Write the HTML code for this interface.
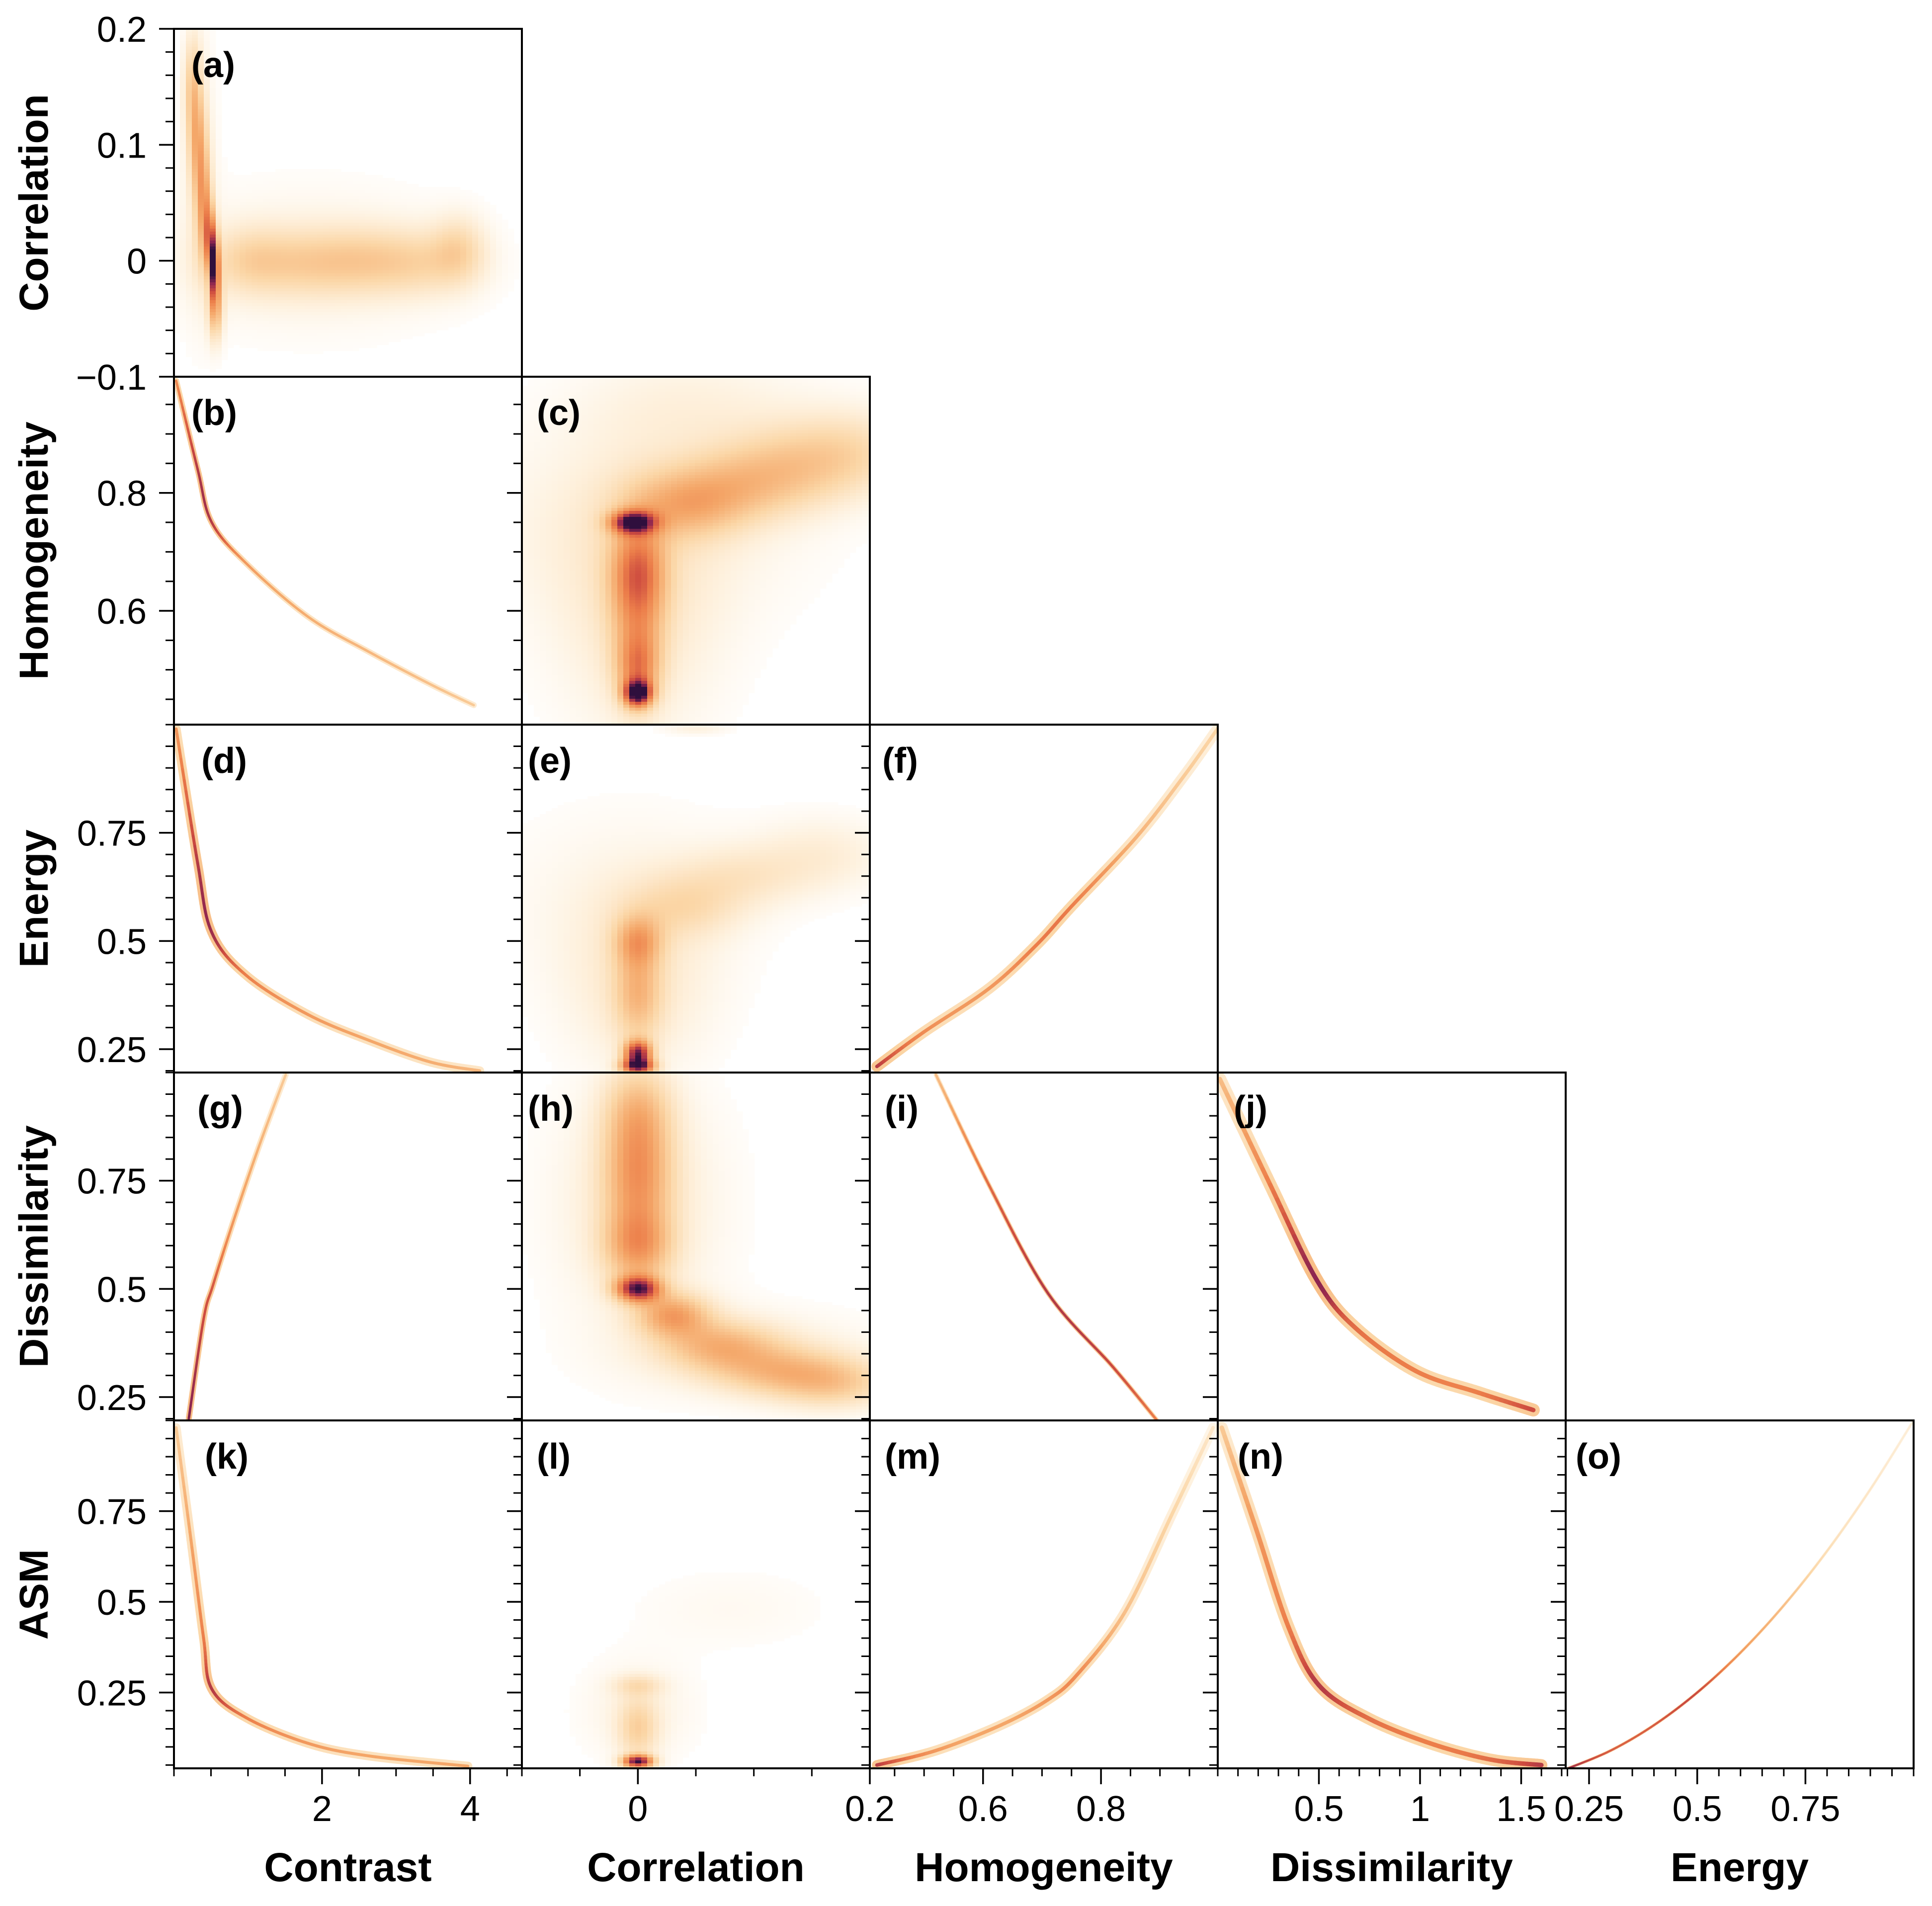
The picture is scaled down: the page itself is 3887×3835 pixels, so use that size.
<!DOCTYPE html>
<html><head><meta charset="utf-8"><title>GLCM feature pair densities</title>
<style>html,body{margin:0;padding:0;background:#fff}svg{display:block}</style></head>
<body>
<svg id="fig" xmlns="http://www.w3.org/2000/svg" width="3887" height="3835" viewBox="0 0 3887 3835" font-family="'Liberation Sans', sans-serif">
<rect width="3887" height="3835" fill="#fff"/>
</svg>
<script>
// ---- variables / axes data ----
const rowNames = ["Correlation","Homogeneity","Energy","Dissimilarity","ASM"];
const colNames = ["Contrast","Correlation","Homogeneity","Dissimilarity","Energy"];
const rowMin = [-0.1,0.407,0.196,0.196,0.041];
const rowMax = [0.2,0.997,1.0,1.0,1.0];
const colMin = [0,-0.1,0.408,0,0.196];
const colMax = [4.7,0.2,0.998,1.72,1.0];
const rowMajor = [[-0.1,0,0.1,0.2],[0.6,0.8],[0.25,0.5,0.75],[0.25,0.5,0.75],[0.25,0.5,0.75]];
const rowLabels = [["\u22120.1","0","0.1","0.2"],["0.6","0.8"],["0.25","0.5","0.75"],["0.25","0.5","0.75"],["0.25","0.5","0.75"]];
const rowMinorStep = [0.02,0.05,0.05,0.05,0.05];
const colMajor = [[2,4],[0,0.2],[0.6,0.8],[0.5,1,1.5],[0.25,0.5,0.75]];
const colLabels = [["2","4"],["0","0.2"],["0.6","0.8"],["0.5","1","1.5"],["0.25","0.5","0.75"]];
const colMinorStep = [0.5,0.05,0.05,0.1,0.05];
const panelLetters = ["a","b","c","d","e","f","g","h","i","j","k","l","m","n","o"];
const labelDx = [35,35,30,55,12,25,47,12,30,32,62,30,30,40,20];

// ---- curve panels: x, y, intensity ----
const curveB_x = [0.03,0.32,0.51,0.98,1.81,2.64,3.47,4.05];
const curveB_y = [0.99,0.84,0.75,0.68,0.59,0.53,0.475,0.44];
const curveB_i = [0.55,0.8,0.8,0.5,0.42,0.38,0.34,0.3];
const curveD_x = [0.03,0.32,0.51,0.98,1.81,2.64,3.47,4.13];
const curveD_y = [0.99,0.68,0.52,0.42,0.33,0.27,0.22,0.20];
const curveD_i = [0.5,0.8,0.85,0.6,0.5,0.45,0.42,0.38];
const curveG_x = [0.2,0.4,0.53,0.81,1.15,1.51];
const curveG_y = [0.2,0.43,0.51,0.66,0.83,0.995];
const curveG_i = [0.9,0.75,0.7,0.5,0.4,0.3];
const curveK_x = [0.03,0.23,0.4,0.51,0.98,1.81,2.64,3.97];
const curveK_y = [0.98,0.67,0.40,0.26,0.18,0.11,0.075,0.047];
const curveK_i = [0.3,0.45,0.6,0.8,0.6,0.5,0.45,0.45];
const curveF_x = [0.42,0.50,0.61,0.69,0.75,0.86,0.94,1.0];
const curveF_y = [0.21,0.29,0.39,0.49,0.58,0.74,0.88,0.995];
const curveF_i = [0.8,0.55,0.5,0.6,0.6,0.4,0.3,0.25];
const curveI_x = [0.52,0.61,0.71,0.82,0.895];
const curveI_y = [0.995,0.74,0.49,0.32,0.196];
const curveI_i = [0.35,0.65,0.8,0.75,0.6];
const curveJ_x = [0.01,0.26,0.49,0.68,0.98,1.29,1.56];
const curveJ_y = [0.985,0.74,0.52,0.41,0.31,0.26,0.22];
const curveJ_i = [0.35,0.6,0.88,0.65,0.6,0.6,0.75];
const curveM_x = [0.42,0.52,0.63,0.71,0.76,0.84,0.92,0.99];
const curveM_y = [0.05,0.09,0.16,0.23,0.30,0.47,0.74,0.98];
const curveM_i = [0.8,0.5,0.45,0.5,0.55,0.35,0.25,0.15];
const curveN_x = [0.02,0.19,0.35,0.50,0.74,1.05,1.35,1.6];
const curveN_y = [0.98,0.70,0.43,0.27,0.18,0.11,0.065,0.05];
const curveN_i = [0.3,0.5,0.6,0.8,0.65,0.6,0.65,0.8];
const curveO_x = [0.2,0.3,0.4,0.5,0.6,0.7,0.8,0.9,1.0];
const curveO_y = [0.04,0.09,0.16,0.25,0.36,0.49,0.64,0.81,1.0];
const curveO_i = [0.85,0.7,0.7,0.75,0.5,0.35,0.2,0.15,0.1];

// ---- density panels: blob components (x, y, sx, sy, weight) ----
const blobA_x = [0.25,0.32,0.4,0.48,0.55,0.56,1.0,1.8,2.6,3.4,3.85,1.8,0.35];
const blobA_y = [0.15,0.1,0.05,0.02,-0.005,-0.04,0.0,-0.002,0.0,-0.002,0.01,0.0,0.08];
const blobA_sx = [0.08,0.08,0.07,0.05,0.035,0.07,0.4,0.5,0.5,0.5,0.25,1.4,0.15];
const blobA_sy = [0.03,0.03,0.03,0.02,0.02,0.02,0.02,0.02,0.02,0.02,0.02,0.045,0.08];
const blobA_w = [0.25,0.3,0.35,0.45,0.9,0.35,0.18,0.17,0.17,0.16,0.17,0.07,0.1];
const blobC_x = [0.0,0.0,0.0,-0.004,0.0,0.0,0.04,0.09,0.14,0.19,0.0,0.05];
const blobC_y = [0.6,0.5,0.46,0.75,0.67,0.6,0.78,0.815,0.85,0.87,0.75,0.95];
const blobC_sx = [0.016,0.012,0.008,0.013,0.016,0.05,0.035,0.04,0.04,0.035,0.1,0.07];
const blobC_sy = [0.09,0.04,0.015,0.013,0.05,0.16,0.04,0.045,0.05,0.05,0.12,0.06];
const blobC_w = [0.33,0.35,0.85,0.8,0.3,0.12,0.28,0.22,0.2,0.15,0.08,0.07];
const blobE_x = [0.0,0.0,0.0,0.0,0.0,0.04,0.09,0.16,0.05,-0.01];
const blobE_y = [0.5,0.38,0.24,0.21,0.4,0.58,0.65,0.7,0.99,0.6];
const blobE_sx = [0.014,0.014,0.008,0.01,0.045,0.035,0.04,0.04,0.02,0.08];
const blobE_sy = [0.04,0.08,0.02,0.012,0.15,0.05,0.05,0.06,0.01,0.15];
const blobE_w = [0.3,0.27,0.8,0.75,0.12,0.15,0.12,0.1,0.08,0.05];
const blobH_x = [0.0,0.0,0.0,0.0,0.03,0.07,0.12,0.17,0.0,0.1];
const blobH_y = [0.9,0.75,0.6,0.5,0.44,0.37,0.31,0.28,0.7,0.35];
const blobH_sx = [0.02,0.02,0.02,0.013,0.022,0.035,0.04,0.035,0.05,0.08];
const blobH_sy = [0.08,0.08,0.06,0.02,0.035,0.04,0.04,0.04,0.2,0.07];
const blobH_w = [0.33,0.35,0.4,0.8,0.4,0.3,0.26,0.24,0.12,0.08];
const blobL_x = [0.0,0.0,0.0,0.0,0.08];
const blobL_y = [0.06,0.15,0.27,0.2,0.48];
const blobL_sx = [0.009,0.012,0.015,0.035,0.06];
const blobL_sy = [0.012,0.06,0.02,0.1,0.08];
const blobL_w = [0.9,0.22,0.15,0.07,0.035];

// ---- layout ----
const NS = "http://www.w3.org/2000/svg";
const svg = document.getElementById("fig");
const L0 = 350, T0 = 58, P = 700;
function el(tag, attrs, parent){
  const e = document.createElementNS(NS, tag);
  for (const k in attrs) e.setAttribute(k, attrs[k]);
  (parent||svg).appendChild(e); return e;
}
function xScale(c, v){ return L0 + c*P + (v-colMin[c])/(colMax[c]-colMin[c])*P; }
function yScale(r, v){ return T0 + r*P + P - (v-rowMin[r])/(rowMax[r]-rowMin[r])*P; }
function xInv(c, px){ return colMin[c] + (px-(L0+c*P))/P*(colMax[c]-colMin[c]); }
function yInv(r, py){ return rowMin[r] + (T0+r*P+P-py)/P*(rowMax[r]-rowMin[r]); }

const stops = [[0,[255,255,255]],[0.08,[254,242,224]],[0.25,[251,214,166]],[0.45,[244,166,104]],[0.6,[236,126,74]],[0.75,[204,74,63]],[0.88,[141,37,80]],[1,[47,15,61]]];
function cmap(t){
  t = Math.max(0, Math.min(1, t));
  for (let i=1;i<stops.length;i++){
    if (t <= stops[i][0]){
      const a=stops[i-1], b=stops[i], f=(t-a[0])/(b[0]-a[0]);
      const c=a[1].map((v,k)=>Math.round(v+(b[1][k]-v)*f));
      return "rgb("+c.join(",")+")";
    }
  }
  return "rgb(47,15,61)";
}

const defs = el("defs", {});
const panelGroups = {};
let idx = 0;
for (let r=0;r<5;r++){
  for (let c=0;c<=r;c++){
    const cp = el("clipPath", {id:"clip"+r+c}, defs);
    el("rect", {x:L0+c*P, y:T0+r*P, width:P, height:P}, cp);
    const g = el("g", {"clip-path":"url(#clip"+r+c+")"});
    
    
    panelGroups[r+"_"+c] = {g, letter: panelLetters[idx], dx: labelDx[idx]};
    idx++;
  }
}

function drawDensity(r, c, bx, by, bsx, bsy, bw){
  const g = panelGroups[r+"_"+c].g;
  const cw = 12, ch = 6;
  const x0 = L0+c*P, y0 = T0+r*P;
  for (let py=y0; py<y0+P; py+=ch){
    for (let px=x0; px<x0+P; px+=cw){
      const xv = xInv(c, px+cw/2), yv = yInv(r, py+ch/2);
      let d = 0;
      for (let k=0;k<bx.length;k++){
        const u=(xv-bx[k])/bsx[k], v=(yv-by[k])/bsy[k];
        d += bw[k]*Math.exp(-0.5*(u*u+v*v));
      }
      if (d < 0.015) continue;
      const rc = el("rect", {x:px, y:py, width:cw+0.5, height:ch+0.5, fill:cmap(d)}, g);
      
      
    }
  }
}
drawDensity(0,0,blobA_x,blobA_y,blobA_sx,blobA_sy,blobA_w);
drawDensity(1,1,blobC_x,blobC_y,blobC_sx,blobC_sy,blobC_w);
drawDensity(2,1,blobE_x,blobE_y,blobE_sx,blobE_sy,blobE_w);
drawDensity(3,1,blobH_x,blobH_y,blobH_sx,blobH_sy,blobH_w);
drawDensity(4,1,blobL_x,blobL_y,blobL_sx,blobL_sy,blobL_w);

function catmull(pts, n){
  const out = [];
  for (let i=0;i<pts.length-1;i++){
    const p0=pts[Math.max(0,i-1)], p1=pts[i], p2=pts[i+1], p3=pts[Math.min(pts.length-1,i+2)];
    for (let s=0;s<n;s++){
      const t=s/n, t2=t*t, t3=t2*t;
      const f = k => 0.5*((2*p1[k])+(-p0[k]+p2[k])*t+(2*p0[k]-5*p1[k]+4*p2[k]-p3[k])*t2+(-p0[k]+3*p1[k]-3*p2[k]+p3[k])*t3);
      out.push([f(0),f(1),f(2)]);
    }
  }
  const l = pts[pts.length-1]; out.push([l[0],l[1],l[2]]);
  return out;
}
function drawCurve(r, c, xs, ys, is, halo, core){
  const g = panelGroups[r+"_"+c].g;
  const pts = xs.map((x,k)=>[xScale(c,x), yScale(r,ys[k]), is[k]]);
  const sm = catmull(pts, 14);
  for (let pass=0; pass<2; pass++){
    for (let k=0;k<sm.length-1;k++){
      const a=sm[k], b=sm[k+1];
      const t = (a[2]+b[2])/2;
      const ln = el("line", {x1:a[0], y1:a[1], x2:b[0], y2:b[1],
        stroke: pass===0 ? cmap(t*0.4) : cmap(t),
        "stroke-width": pass===0 ? halo : core, "stroke-linecap":"round"}, g);
      
      
    }
  }
}
drawCurve(1,0,curveB_x,curveB_y,curveB_i,12,5);
drawCurve(2,0,curveD_x,curveD_y,curveD_i,18,6);
drawCurve(3,0,curveG_x,curveG_y,curveG_i,12,5);
drawCurve(4,0,curveK_x,curveK_y,curveK_i,18,6);
drawCurve(2,2,curveF_x,curveF_y,curveF_i,22,7);
drawCurve(3,2,curveI_x,curveI_y,curveI_i,9,5);
drawCurve(3,3,curveJ_x,curveJ_y,curveJ_i,26,9);
drawCurve(4,2,curveM_x,curveM_y,curveM_i,20,7);
drawCurve(4,3,curveN_x,curveN_y,curveN_i,24,9);
drawCurve(4,4,curveO_x,curveO_y,curveO_i,6,4);

function ticksFrom(min, max, step, majors){
  const out = [];
  const start = Math.ceil(min/step - 1e-6);
  for (let k=start; k*step <= max+1e-9; k++){
    const v = +(k*step).toFixed(6);
    if (!majors.some(m=>Math.abs(m-v)<1e-6)) out.push(v);
  }
  return out;
}
for (let r=0;r<5;r++){
  for (let c=0;c<=r;c++){
    const info = panelGroups[r+"_"+c];
    const x0=L0+c*P, y0=T0+r*P;
    const fr = el("rect", {x:x0, y:y0, width:P, height:P, fill:"none", stroke:"#000", "stroke-width":4});
    
    
    const t = el("text", {x:x0+info.dx, y:y0+97, "font-size":72, "font-weight":"bold", fill:"#000"});
    t.textContent = "(" + info.letter + ")";
    
    
    rowMajor[r].forEach(v=>{
      const y=yScale(r,v);
      const tk = el("line",{x1:x0-30,y1:y,x2:x0,y2:y,stroke:"#000","stroke-width":3.5});
      
      
    });
    ticksFrom(rowMin[r], rowMax[r], rowMinorStep[r], rowMajor[r]).forEach(v=>{
      const y=yScale(r,v);
      const tk = el("line",{x1:x0-17,y1:y,x2:x0,y2:y,stroke:"#000","stroke-width":3});
      
      
    });
    if (r===4){
      colMajor[c].forEach(v=>{
        const x=xScale(c,v);
        const tk = el("line",{x1:x,y1:y0+P,x2:x,y2:y0+P+32,stroke:"#000","stroke-width":3.5});
        
        
      });
      ticksFrom(colMin[c], colMax[c], colMinorStep[c], colMajor[c]).forEach(v=>{
        const x=xScale(c,v);
        const tk = el("line",{x1:x,y1:y0+P,x2:x,y2:y0+P+16,stroke:"#000","stroke-width":3});
        
        
      });
    }
  }
}
for (let r=0;r<5;r++){
  rowMajor[r].forEach((v,k)=>{
    const t = el("text",{x:295, y:yScale(r,v)+26, "font-size":72, "text-anchor":"end", fill:"#000"});
    t.textContent = rowLabels[r][k];
    
    
  });
  const cy = T0 + r*P + P/2;
  const tt = el("text",{x:0, y:0, "font-size":82, "font-weight":"bold", "text-anchor":"middle", fill:"#000", transform:"translate(96,"+cy+") rotate(-90)"});
  tt.textContent = rowNames[r];
  
  
}
for (let c=0;c<5;c++){
  colMajor[c].forEach((v,k)=>{
    const t = el("text",{x:xScale(c,v), y:3664, "font-size":72, "text-anchor":"middle", fill:"#000"});
    t.textContent = colLabels[c][k];
    
    
  });
  const tt = el("text",{x:L0+c*P+P/2, y:3785, "font-size":82, "font-weight":"bold", "text-anchor":"middle", fill:"#000"});
  tt.textContent = colNames[c];
  
  
}
</script>
</body></html>
